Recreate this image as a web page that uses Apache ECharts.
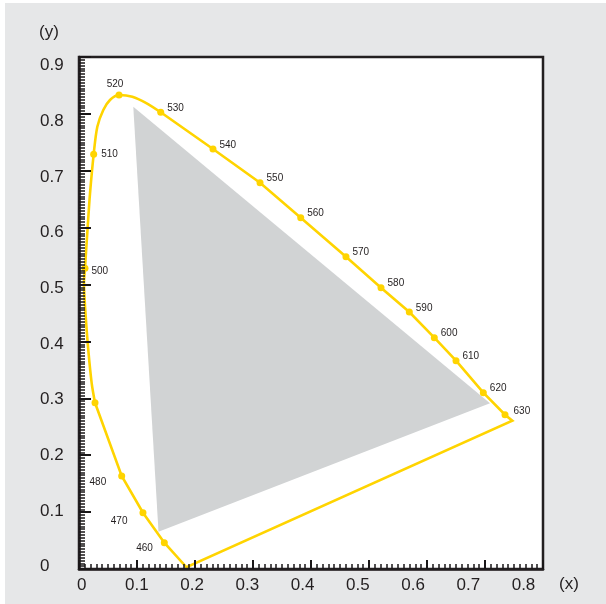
<!DOCTYPE html>
<html><head><meta charset="utf-8">
<script src="https://cdn.jsdelivr.net/npm/echarts@6/dist/echarts.min.js"></script>
<style>html,body{margin:0;padding:0;background:#fff}
#wrap{position:relative;width:606px;height:604px}
#base,#axes{position:absolute;left:0;top:0;width:606px;height:604px}</style>
</head><body><div id="wrap"><div id="base"></div><div id="axes"></div></div>
<script>
// Spectral locus marks (nm) with chromaticity
const wavelengths = [460,470,480,490,500,510,520,530,540,550,560,570,580,590,600,610,620,630];
const locusX = [0.1471,0.1103,0.0736,0.0276,0.0103,0.0253,0.0690,0.1409,0.2310,0.3121,0.3823,0.4603,0.5207,0.5695,0.6126,0.6500,0.6971,0.7345];
const locusY = [0.0462,0.0990,0.1635,0.2923,0.5286,0.7290,0.8332,0.8028,0.7383,0.6790,0.6175,0.5490,0.4945,0.4518,0.4066,0.3662,0.3099,0.2712];
// traced curved part of the locus, 490 nm to 530 nm
const bendX = [0.0276,0.0219,0.0160,0.0116,0.0086,0.0103,0.0150,0.0190,0.0253,0.0316,0.0419,0.0534,0.0690,0.0920,0.1160,0.1409];
const bendY = [0.2923,0.3264,0.3850,0.4435,0.5027,0.5286,0.6017,0.6604,0.7290,0.7775,0.8068,0.8244,0.8332,0.8302,0.8190,0.8028];
// ends of the line of purples (red end, violet end)
const purpleX = [0.7471, 0.1853];
const purpleY = [0.2607, 0.003];
// gamut triangle
const triX = [0.0936, 0.7086, 0.1371];
const triY = [0.8126, 0.2913, 0.0656];
// tick labels
const xTickLabels = [0,0.1,0.2,0.3,0.4,0.5,0.6,0.7,0.8];
const yTickLabels = [0,0.1,0.2,0.3,0.4,0.5,0.6,0.7,0.8,0.9];

const YEL = '#ffd400', INK = '#231f20', TICK = '#1a1718', FONT = '"Liberation Sans", Arial, sans-serif';
const GRID = {left:79, top:57, width:464, height:512};

const bendData = bendX.map((x,i)=>[x,bendY[i]]);
const straightData = [];
for (let i = 7; i < wavelengths.length; i++) straightData.push([locusX[i], locusY[i]]);
straightData.push([purpleX[0], purpleY[0]]);
straightData.push([purpleX[1], purpleY[1]]);
for (let i = 0; i <= 3; i++) straightData.push([locusX[i], locusY[i]]);

const labelSpecial = {
  520: {position:'top', distance:2, offset:[-4,0]},
  480: {position:'left', distance:12, offset:[0,6]},
  470: {position:'left', distance:12, offset:[0,9]},
  460: {position:'left', distance:8, offset:[0,6]},
  490: {show:false},
  500: {offset:[0,3]},
  510: {offset:[0,0], distance:4},
  630: {offset:[2,-3]}
};
const markData = wavelengths.map((w,i)=>{
  const lab = Object.assign({show:true, position:'right', distance:3, offset:[0,-4], formatter:String(w)}, labelSpecial[w]||{});
  return {value:[locusX[i], locusY[i]], label: lab};
});

// ---- base layer: background, triangle, locus, marks ----
const base = echarts.init(document.getElementById('base'));
base.setOption({
  backgroundColor:'#ffffff',
  animation:false,
  graphic:[
    {type:'rect', z:-100, shape:{x:5,y:3,width:601,height:601}, style:{fill:'#e6e7e8'}},
    {type:'text', left:39, top:24, style:{text:'(y)', fill:INK, font:'17px '+FONT}},
    {type:'text', left:559, top:576, style:{text:'(x)', fill:INK, font:'17px '+FONT}}
  ],
  grid:Object.assign({show:true, backgroundColor:'#ffffff', borderWidth:0}, GRID),
  xAxis:{type:'value', min:0, max:0.8, show:false},
  yAxis:{type:'value', min:0, max:0.9, show:false},
  series:[
    {type:'custom', silent:true, z:1,
     data:[[triX[0], triY[0]]],
     renderItem:(params, api)=>({type:'polygon',
       shape:{points: triX.map((x,i)=>api.coord([x, triY[i]]))},
       style:{fill:'#d1d3d4'}})},
    {type:'line', data:bendData, smooth:0.3, showSymbol:false, silent:true, z:3,
     lineStyle:{color:YEL, width:2.6}},
    {type:'line', data:straightData, smooth:false, showSymbol:false, silent:true, z:3,
     lineStyle:{color:YEL, width:2.6, join:'miter'}},
    {type:'scatter', data:markData, symbolSize:7, z:4,
     itemStyle:{color:YEL, opacity:1},
     label:{color:INK, fontSize:10, fontFamily:FONT}}
  ]
});

// ---- axes layer: frame, ticks, tick labels ----
const axes = echarts.init(document.getElementById('axes'));
axes.setOption({
  animation:false,
  grid:Object.assign({show:true, backgroundColor:'transparent', borderColor:INK, borderWidth:2.5}, GRID),
  xAxis:[
    {type:'value', min:0, max:0.8, interval:0.1,
     axisLine:{show:true, onZero:false, lineStyle:{color:INK, width:2.5}},
     axisTick:{show:true, inside:true, length:9, lineStyle:{color:TICK, width:2}},
     axisLabel:{show:false}, splitLine:{show:false}},
    {type:'value', min:-0.00489, max:0.8353, position:'bottom',
     axisLine:{show:false, onZero:false}, axisTick:{show:false}, splitLine:{show:false},
     axisLabel:{show:true, customValues:xTickLabels, margin:8, color:INK, fontSize:17, fontFamily:FONT}},
    {type:'value', min:0, max:0.8, interval:0.01, position:'bottom',
     axisLine:{show:false, onZero:false}, axisLabel:{show:false}, splitLine:{show:false},
     axisTick:{show:true, inside:true, length:5, lineStyle:{color:TICK, width:1.5}}}
  ],
  yAxis:[
    {type:'value', min:0, max:0.9, interval:0.1,
     axisLine:{show:true, onZero:false, lineStyle:{color:INK, width:2.5}},
     axisTick:{show:true, inside:true, length:12, lineStyle:{color:TICK, width:2}},
     axisLabel:{show:false}, splitLine:{show:false}},
    {type:'value', min:-0.00413, max:0.91525, position:'left',
     axisLine:{show:false, onZero:false}, axisTick:{show:false}, splitLine:{show:false},
     axisLabel:{show:true, customValues:yTickLabels, margin:39, align:'left', color:INK, fontSize:17, fontFamily:FONT}},
    {type:'value', min:0, max:0.9, interval:0.005, position:'left',
     axisLine:{show:false, onZero:false}, axisLabel:{show:false}, splitLine:{show:false},
     axisTick:{show:true, inside:true, length:6, lineStyle:{color:TICK, width:1.5}}}
  ],
  series:[
    {type:'scatter', xAxisIndex:0, yAxisIndex:0, data:[], silent:true}
  ]
});
</script></body></html>
